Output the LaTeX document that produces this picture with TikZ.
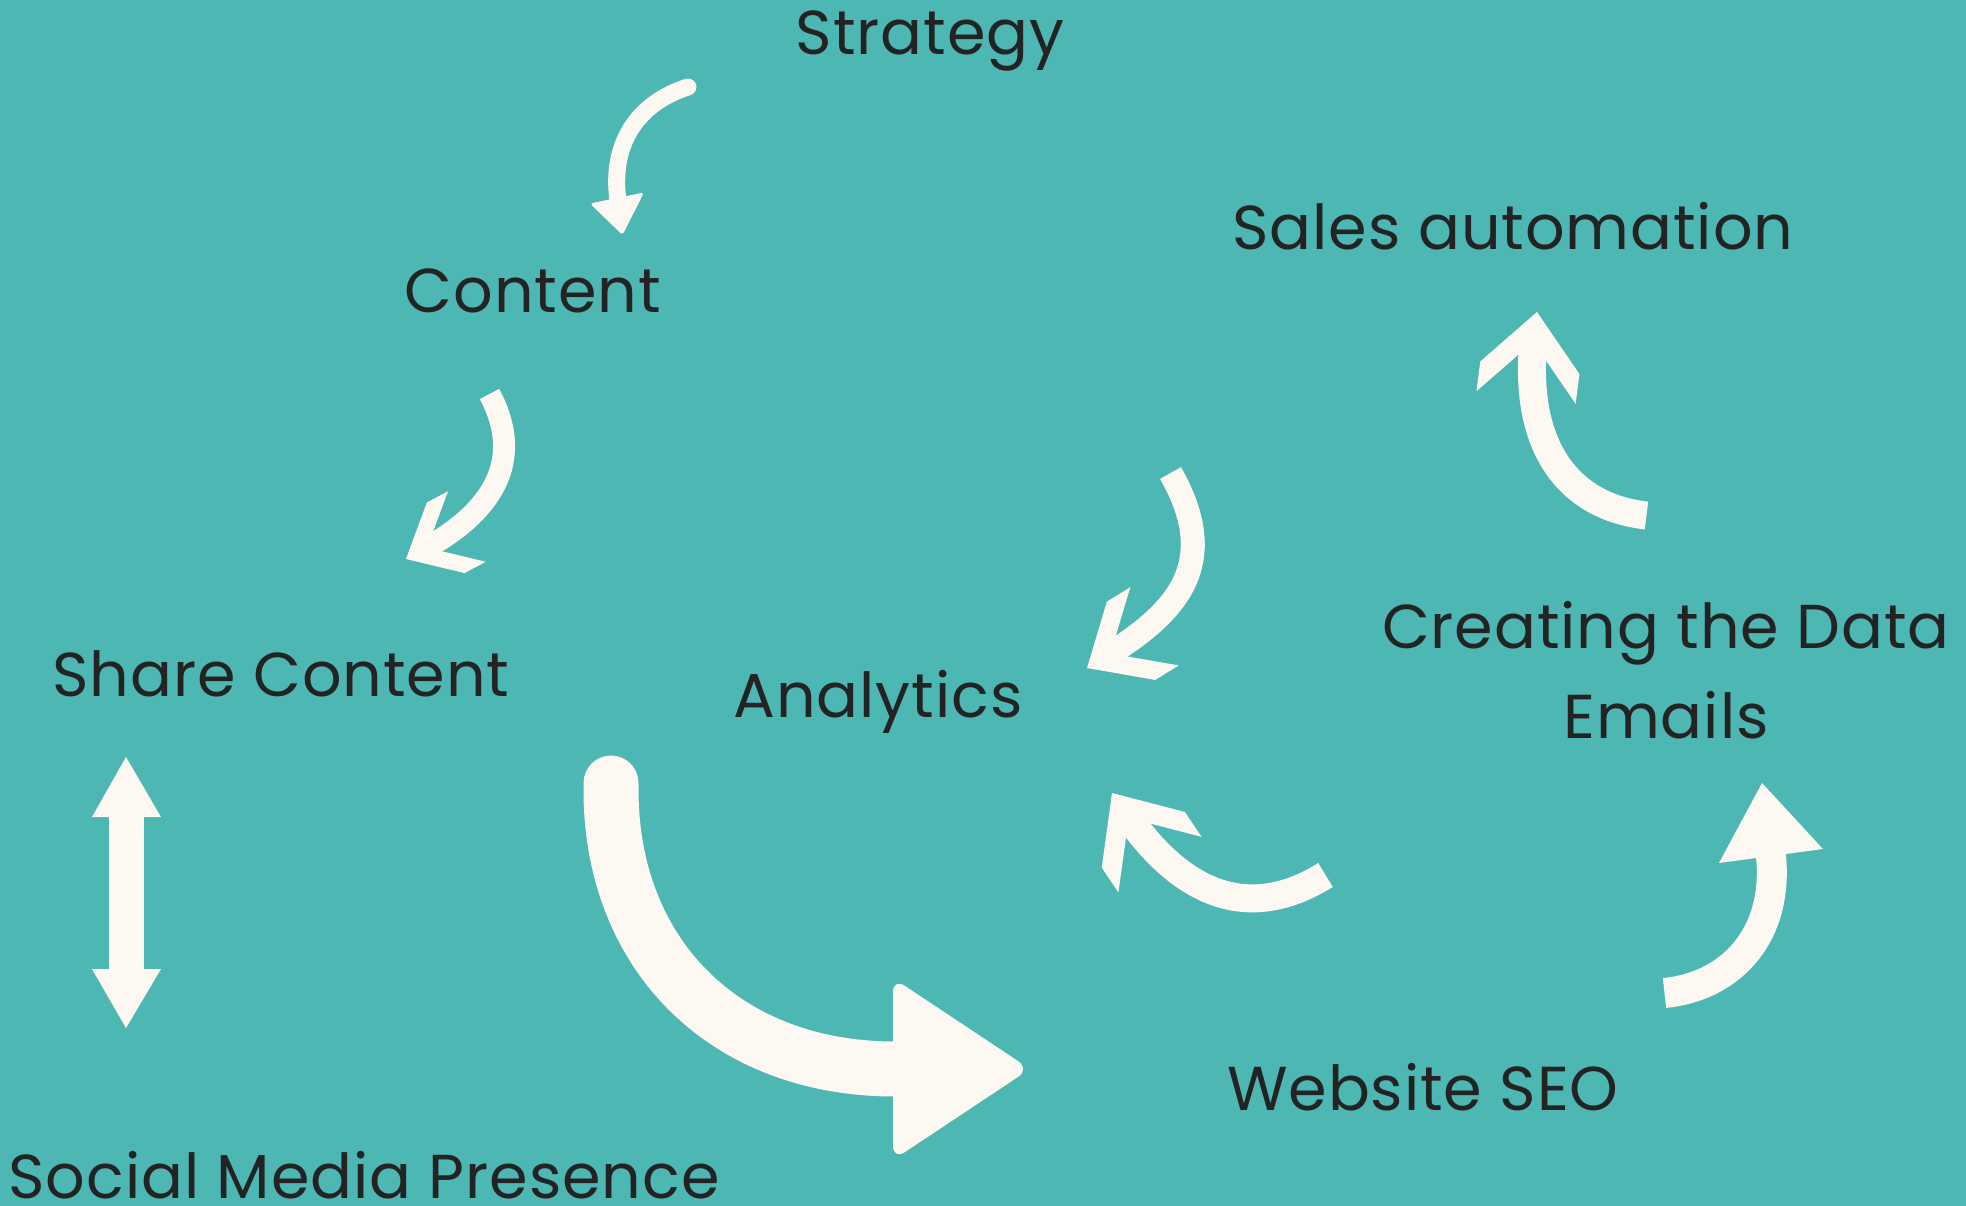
\documentclass[tikz,border=0pt]{standalone}
\usepackage{fontspec}
\setmainfont{Poppins}[LetterSpace=1.5]
\usetikzlibrary{calc}

\definecolor{bgteal}{HTML}{4CB7B3}
\definecolor{cream}{HTML}{FDF8F2}
\definecolor{inkgray}{HTML}{232323}
\newcommand{\wordfont}{\fontsize{62}{90}\selectfont}

\begin{document}
\begin{tikzpicture}[
  x=1pt, y=-1pt,
  word/.style={text=inkgray, font=\wordfont, anchor=base, inner sep=0pt},
  shaft/.style={draw=cream, line cap=butt},
  headfill/.style={fill=cream},
  chevron/.pic={
    \fill[cream] (0,0) -- (-45,40) -- (-69,40) -- (-24,0)
      -- (-69,-40) -- (-45,-40) -- cycle;
  }
]

% background
\fill[bgteal] (0,0) rectangle (1966,1206);
\useasboundingbox (0,0) rectangle (1966,1206);

% labels
\node[word] (strategy) at (930,55) {Strategy};
\node[word] (content) at (533,313) {Content};
\node[word] (sales) at (1513,250) {Sales automation};
\node[word] (share) at (281,696) {Share Content};
\node[word] (analytics) at (878,717) {Analytics};
\node[word, align=center] (emails) at (1666,738) {Creating the Data\\Emails};
\node[word] (seo) at (1423,1110) {Website SEO};
\node[word] (social) at (364,1198) {Social Media Presence};

% arrow ends
\coordinate (s1) at (688,87);      \coordinate (e1) at (618,200);
\coordinate (s2) at (489.5,394);   \coordinate (e2) at (420.1,551.5);
\coordinate (s3) at (1170.5,473);  \coordinate (e3) at (1102.3,658.6);
\coordinate (s4) at (1325.5,875);  \coordinate (e4) at (1123.1,809.6);
\coordinate (s5) at (1646.5,515.5);\coordinate (e5) at (1534.5,331.8);
\coordinate (s6) at (1664.5,993);  \coordinate (e6) at (1770.5,852);
\coordinate (s7) at (611,783);     \coordinate (e7) at (900,1069);
\coordinate (s8) at (126,812);     \coordinate (e8) at (126,974);

% strategy -> content
\draw[shaft, line width=17pt, line cap=round] (s1) .. controls +(-52,16.5) and +(-7.7,-54.5) .. (e1);
\fill[headfill, rounded corners=3pt] (590,203.5) -- (644,192.5) -- (622.5,235) -- cycle;

% content -> share content
\draw[shaft, line width=22pt] (s2) .. controls +(40,74.8) and +(60.7,-32.4) .. (e2);
\pic[rotate=-151.9] at (406,559) {chevron};

% towards analytics (top)
\draw[shaft, line width=24pt] (s3) .. controls +(54.6,95.5) and +(68.1,-42) .. (e3);
\pic[rotate=-148.3, scale=1.15] at (1087,668) {chevron};

% towards analytics (bottom)
\draw[shaft, line width=28pt] (s4) .. controls +(-80.75,50.35) and +(53.9,80.6) .. (e4);
\pic[rotate=123.8, scale=1.25] at (1112,793) {chevron};

% emails -> sales automation
\draw[shaft, line width=28pt] (s5) .. controls +(-84.5,-9.4) and +(-13.6,106.1) .. (e5);
\pic[rotate=82.7, scale=1.25] at (1537,312) {chevron};

% website seo -> emails
\draw[shaft, line width=30pt] (s6) .. controls +(69.7,-7) and +(9.8,79.4) .. (e6);
\fill[headfill] (1719,863) -- (1823,849) -- (1762,783) -- cycle;

% big arrow
\draw[shaft, line width=55pt, line cap=round] (s7) -- (611,790)
  .. controls (611,954) and (724,1069) .. (895,1069) -- (e7);
\fill[headfill, rounded corners=14pt] (893,978) -- (1030,1069) -- (893,1160) -- cycle;

% share content <-> social media
\draw[shaft, line width=35pt] (s8) -- (e8);
\fill[headfill] (126,757) -- (161,817) -- (92,817) -- cycle;
\fill[headfill] (126,1028) -- (161,969) -- (92,969) -- cycle;

\end{tikzpicture}
\end{document}
